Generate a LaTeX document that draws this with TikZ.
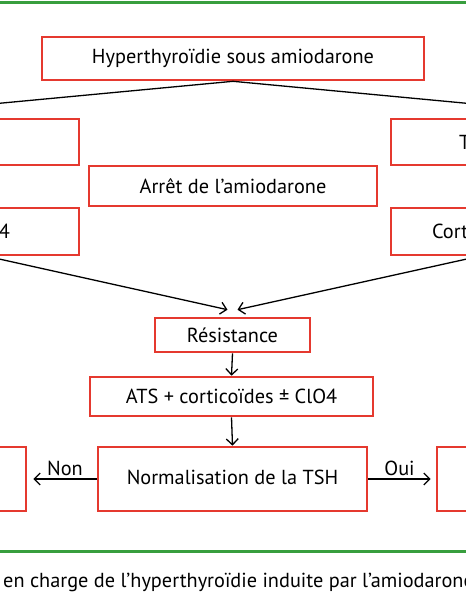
\documentclass[tikz,border=0pt]{standalone}
\usepackage{fontspec}
\setmainfont{PT Sans}
\usetikzlibrary{arrows.meta,positioning,calc}
\definecolor{clrR}{RGB}{229,57,47}
\definecolor{clrG}{RGB}{56,158,62}
\tikzset{
  stepbox/.style={rectangle,draw=clrR,line width=2.6pt,fill=white,
    inner sep=0pt,font=\fontsize{20.3}{23}\selectfont},
  frameline/.style={draw=clrG,line width=3pt},
  link/.style={line width=1.3pt},
  arrow/.style={-{Straight Barb[length=6pt,width=12pt]},line width=1.3pt},
  answer/.style={font=\fontsize{20.3}{23}\selectfont,inner sep=3pt}
}

\begin{document}
\begin{tikzpicture}[x=1pt,y=-1pt]
  \useasboundingbox (0,0) rectangle (466,600);
  \clip (0,0) rectangle (466,600);

  \draw[frameline] (0,2.5) -- (466,2.5);
  \draw[frameline] (0,551) -- (466,551);

  \node[stepbox,minimum width=382pt,minimum height=43pt] (hyper) at (233,58.5)
    {Hyperthyroïdie sous amiodarone};

  \coordinate (toL) at (-40,107);
  \coordinate (toR) at (506,107);
  \draw[link] (hyper.south) -- (toL);
  \draw[link] (hyper.south) -- (toR);

  \node[stepbox,minimum width=184pt,minimum height=46pt] (left1) at (-13,142) {};
  \node[stepbox,minimum height=46pt,inner xsep=68pt,text width=40pt,align=left]
    (right1) at (479,142) {T};

  \node[stepbox,minimum width=288pt,minimum height=40pt] (arret) at (233,186)
    {Arrêt de l’amiodarone};

  \node[stepbox,minimum height=47pt,inner xsep=69pt,text width=46pt,align=right]
    (left2) at (-13,231.5) {4};
  \node[stepbox,minimum height=47pt,inner xsep=41pt,text width=94pt,align=left]
    (right2) at (479,231.5) {Cort};

  \node[stepbox,minimum width=155pt,minimum height=34pt] (res) at (232.5,335)
    {Résistance};
  \node[stepbox,minimum width=283pt,minimum height=39pt] (ats) at (231.5,396.5)
    {ATS + corticoïdes ± ClO4};
  \node[stepbox,minimum width=269pt,minimum height=64pt] (norm) at (232.5,479)
    {\raisebox{4pt}{Normalisation de la TSH}};

  \node[stepbox,minimum width=132pt,minimum height=64pt] (left3) at (-40,479) {};
  \node[stepbox,minimum width=138pt,minimum height=64pt] (right3) at (506,479) {};

  \draw[arrow] (left2.south) -- ($(res.north)+(-5,-7)$);
  \draw[arrow] (right2.south) -- ($(res.north)+(5,-7)$);
  \draw[arrow] (res.south) -- (ats.north);
  \draw[arrow] (ats.south) -- (norm.north);
  \draw[arrow] (norm.west) -- node[answer,above] {Non} ($(left3.east)+(6,0)$);
  \draw[arrow] (norm.east) -- node[answer,above] {Oui} ($(right3.west)+(-5,0)$);

  \node[answer,anchor=west] (caption) at (0,582)
    {en charge de l’hyperthyroïdie induite par l’amiodarone};
\end{tikzpicture}
\end{document}
